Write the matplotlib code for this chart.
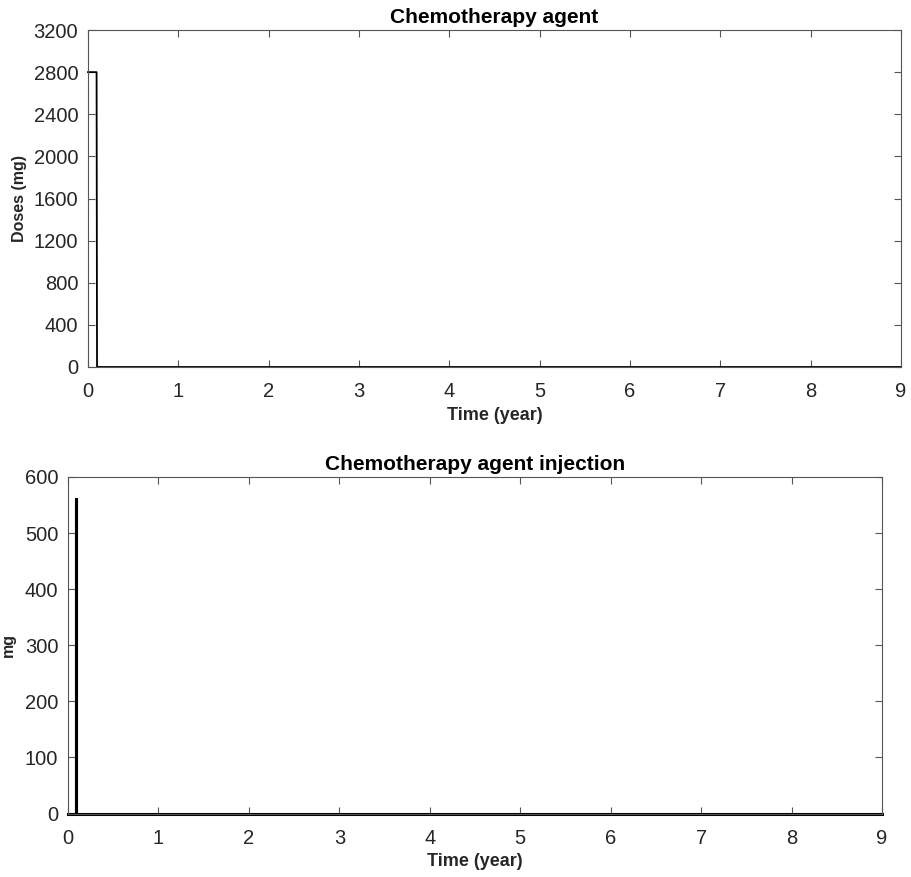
import matplotlib
matplotlib.use("Agg")
import matplotlib.pyplot as plt

# Data
t_agent = [0.0, 0.095, 0.1, 9.0]
dose_agent = [2800, 2800, 0, 0]

t_inject = [0.0, 0.085, 0.085, 0.085, 9.0]
dose_inject = [0, 0, 560, 0, 0]

xticks = list(range(0, 10))
yticks_top = list(range(0, 3201, 400))
yticks_bot = list(range(0, 601, 100))

plt.rcParams['font.family'] = ['Liberation Sans', 'DejaVu Sans']
txt = '#262626'
spine_c = '#555555'

fig = plt.figure(figsize=(9.11, 8.77), dpi=100)
ax1 = fig.add_axes([88/911, 1-367/877, (901-88)/911, (367-30)/877])
ax2 = fig.add_axes([68/911, 1-813.5/877, (882-68)/911, (813.5-477)/877])

def style(ax):
    for s in ax.spines.values():
        s.set_color(spine_c)
        s.set_linewidth(0.8)
    ax.tick_params(direction='in', length=5, width=0.8, color=spine_c,
                   labelsize=14.5, labelcolor=txt, top=True, right=True)
    ax.tick_params(axis='x', pad=11)
    ax.tick_params(axis='y', pad=7)
    ax.set_xlim(0, 9)
    ax.set_xticks(xticks)

ax1.plot(t_agent, dose_agent, color='black', linewidth=1.3, clip_on=False)
style(ax1)
ax1.set_ylim(0, 3200)
ax1.set_yticks(yticks_top)
ax1.set_title('Chemotherapy agent', fontsize=15, fontweight='bold', color='black', pad=5)
ax1.set_xlabel('Time (year)', fontsize=13, fontweight='bold', color=txt, labelpad=4)
ax1.set_ylabel('Doses (mg)', fontsize=11.5, fontweight='bold', color=txt)
ax1.yaxis.set_label_coords(-0.075, 0.5)

ax2.plot(t_inject, dose_inject, color='black', linewidth=2.2, clip_on=False)
style(ax2)
ax2.set_ylim(0, 600)
ax2.set_yticks(yticks_bot)
ax2.set_title('Chemotherapy agent injection', fontsize=15, fontweight='bold', color='black', pad=5)
ax2.set_xlabel('Time (year)', fontsize=13, fontweight='bold', color=txt, labelpad=4)
ax2.set_ylabel('mg', fontsize=11.5, fontweight='bold', color=txt)
ax2.yaxis.set_label_coords(-0.064, 0.5)

fig.savefig('out.png', dpi=100)
